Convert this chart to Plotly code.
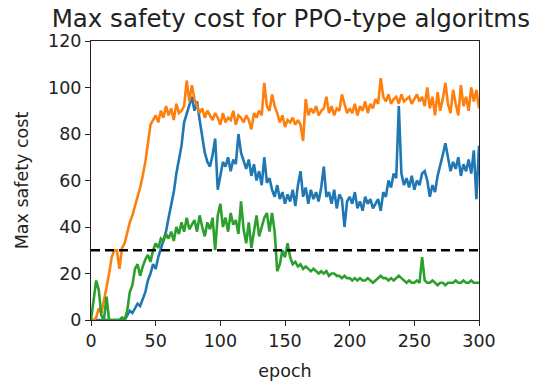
import plotly.graph_objects as go

epochs = list(range(0, 301, 2))

orange = [0, 0, 1, 5, 3, 8, 14, 20, 27, 30,
          30, 22, 31, 33, 38, 42, 45, 49, 52, 57,
          62, 68, 76, 84, 86, 88, 85, 90, 87, 92,
          88, 91, 86, 93, 89, 90, 92, 103, 94, 101,
          95, 92, 89, 91, 87, 90, 88, 86, 89, 87,
          84, 89, 85, 87, 86, 90, 84, 88, 87, 85,
          88, 86, 82, 89, 87, 90, 88, 102, 92, 90,
          97, 92, 89, 85, 88, 83, 86, 85, 87, 84,
          86, 84, 77, 95, 88, 91, 89, 92, 88, 90,
          91, 96, 89, 92, 88, 91, 90, 97, 93, 89,
          91, 89, 93, 88, 92, 90, 94, 89, 93, 91,
          95, 93, 104, 96, 94, 97, 93, 95, 96, 93,
          97, 94, 95, 96, 93, 95, 97, 94, 96, 92,
          100, 91, 96, 88, 98, 90, 95, 102, 93, 89,
          99, 93, 88, 101, 92, 96, 90, 100, 94, 99,
          91]

blue = [0, 0, 0, 0, 0, 0, 0, 0, 0, 0,
        0, 0, 1, 0, 2, 4, 3, 5, 7, 6,
        9, 12, 17, 20, 24, 22, 27, 31, 34, 38,
        44, 50, 55, 63, 70, 75, 85, 89, 93, 96,
        90, 94, 86, 78, 72, 68, 66, 71, 78, 56,
        63, 68, 66, 70, 64, 69, 67, 80, 72, 68,
        65, 69, 62, 67, 60, 64, 58, 70, 59, 61,
        56, 53, 58, 52, 55, 50, 54, 51, 56, 49,
        58, 64, 53, 57, 50, 56, 52, 55, 51, 57,
        66, 53, 55, 50, 56, 48, 54, 52, 40, 51,
        53, 50, 55, 48, 51, 47, 53, 50, 52, 48,
        50, 52, 47, 55, 53, 60, 57, 63, 61, 92,
        63, 58, 61, 57, 62, 56, 60, 58, 63, 64,
        60, 53, 58, 55, 62, 66, 71, 76, 70, 64,
        68, 65, 70, 62, 67, 64, 69, 63, 73, 52,
        75]

green = [0, 8, 17, 13, 2, 0, 10, 0, 0, 0,
         0, 0, 1, 0, 4, 12, 15, 22, 24, 19,
         23, 26, 28, 25, 30, 33, 31, 35, 34, 37,
         35, 38, 34, 40, 37, 42, 38, 44, 39, 41,
         43, 38, 45, 40, 36, 42, 39, 44, 30, 45,
         50, 40, 44, 38, 46, 41, 43, 37, 51, 39,
         33, 42, 31, 38, 45, 36, 40, 44, 46, 38,
         46, 38, 21, 24, 30, 27, 33, 27, 24, 25,
         23, 24, 22, 23, 22, 21, 22, 21, 20, 21,
         20, 21, 19, 20, 20, 19, 19, 18, 19, 18,
         18, 17, 18, 17, 18, 17, 17, 18, 17, 16,
         17, 18, 19, 18, 18, 17, 18, 17, 18, 19,
         18, 17, 16, 17, 16, 16, 17, 16, 27, 17,
         16, 16, 17, 16, 15, 16, 16, 15, 16, 16,
         16, 17, 16, 16, 17, 16, 16, 17, 16, 16,
         16]

threshold = 30
x_ticks = [0, 50, 100, 150, 200, 250, 300]
y_ticks = [0, 20, 40, 60, 80, 100, 120]

FONT = "DejaVu Sans"
fig = go.Figure()
for ys, col in [(blue, "#1f77b4"), (orange, "#ff7f0e"), (green, "#2ca02c")]:
    fig.add_trace(go.Scatter(x=epochs, y=ys, mode="lines",
                             line=dict(color=col, width=2.6), showlegend=False))
fig.add_trace(go.Scatter(x=[0, 300], y=[threshold, threshold], mode="lines",
                         line=dict(color="black", width=2.6, dash="9px,5px"),
                         showlegend=False))

axis_common = dict(showgrid=False, zeroline=False, showline=True, linecolor="#222",
                   linewidth=1, mirror=True, ticks="outside", ticklen=5, automargin=False,
                   tickcolor="#222", tickfont=dict(family=FONT, size=17.5, color="#222"))
fig.update_xaxes(range=[0, 300], tickvals=x_ticks,
                 title=dict(text="epoch", font=dict(family=FONT, size=17.5, color="#222"), standoff=14),
                 **axis_common)
fig.update_yaxes(range=[0, 120], tickvals=y_ticks,
                 title=dict(text="Max safety cost", font=dict(family=FONT, size=17.5, color="#222"), standoff=14),
                 **axis_common)
fig.update_layout(
    width=539, height=382,
    margin=dict(l=91, r=60, t=41, b=62),
    paper_bgcolor="white", plot_bgcolor="white",
    title=dict(text="Max safety cost for PPO-type algoritms", x=0.515, xref="paper",
               y=0.953, yref="container", yanchor="middle",
               font=dict(family=FONT, size=24.5, color="#222")),
)
fig.write_html("out.html")
